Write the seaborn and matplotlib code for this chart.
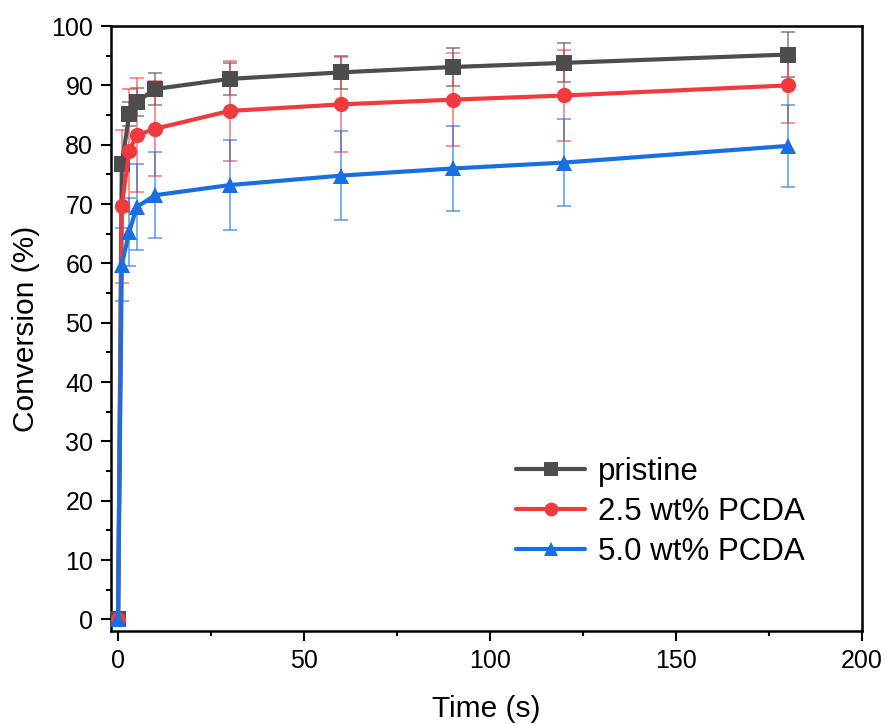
import numpy as np
import pandas as pd
import matplotlib
matplotlib.use('Agg')
import matplotlib.pyplot as plt
import seaborn as sns
from matplotlib.ticker import MultipleLocator

# data
time = [0, 1, 3, 5, 10, 30, 60, 90, 120, 180]
pristine = [0, 76.7, 85.2, 87.2, 89.4, 91.1, 92.2, 93.1, 93.8, 95.2]
pristine_err = [0, 1.0, 2.0, 2.4, 2.7, 2.7, 2.8, 3.2, 3.3, 3.8]
pcda_25 = [0, 69.6, 79.0, 81.6, 82.7, 85.7, 86.8, 87.6, 88.3, 90.0]
pcda_25_err = [0, 12.9, 10.4, 9.6, 8.0, 8.4, 8.0, 7.8, 7.6, 6.3]
pcda_50 = [0, 59.8, 65.3, 69.5, 71.5, 73.2, 74.8, 76.0, 77.0, 79.8]
pcda_50_err = [0, 6.2, 5.8, 7.2, 7.2, 7.6, 7.5, 7.2, 7.4, 6.9]

labels = ['pristine', '2.5 wt% PCDA', '5.0 wt% PCDA']
colors = ['#4d4d4d', '#ef3b3e', '#1a6fdf']
markers = ['s', 'o', '^']

sns.set_style('ticks')
plt.rcParams['font.family'] = ['Liberation Sans', 'DejaVu Sans']
plt.rcParams['text.color'] = 'black'
plt.rcParams['axes.labelcolor'] = 'black'
plt.rcParams['xtick.color'] = 'black'
plt.rcParams['ytick.color'] = 'black'
plt.rcParams['axes.edgecolor'] = 'black'

df = pd.DataFrame({
    'time': time * 3,
    'conv': pristine + pcda_25 + pcda_50,
    'err': pristine_err + pcda_25_err + pcda_50_err,
    'sample': sum([[l] * len(time) for l in labels], []),
})

fig = plt.figure(figsize=(8.85, 7.24), dpi=100)
ax = fig.add_axes([0.125, 0.128, 0.849, 0.836])

# error bars behind the lines
for lab, c in zip(labels, colors):
    d = df[df['sample'] == lab]
    ax.errorbar(d['time'], d['conv'], yerr=d['err'], fmt='none', ecolor=c,
                elinewidth=1.2, capsize=5, capthick=1.2, alpha=0.65, zorder=1)

sns.lineplot(data=df, x='time', y='conv', hue='sample', style='sample',
             palette=colors, markers=markers, dashes=False, markersize=11,
             markeredgewidth=0, linewidth=3, ax=ax, zorder=3)

ax.set_xlim(-2, 200)
ax.set_ylim(-2, 100)
ax.xaxis.set_major_locator(MultipleLocator(50))
ax.xaxis.set_minor_locator(MultipleLocator(25))
ax.yaxis.set_major_locator(MultipleLocator(10))
ax.yaxis.set_minor_locator(MultipleLocator(5))
ax.tick_params(which='major', length=7.5, width=1.5, labelsize=18, direction='out', pad=5)
ax.tick_params(which='minor', length=3.5, width=1.5, direction='out')
for s in ax.spines.values():
    s.set_linewidth(1.8)
    s.set_visible(True)

ax.set_xlabel('Time (s)', fontsize=21.5, labelpad=16)
ax.set_ylabel('Conversion (%)', fontsize=21.5, labelpad=8)

leg = ax.legend(frameon=False, fontsize=22.5, handlelength=2.2, loc='lower right',
                bbox_to_anchor=(0.94, 0.085), labelspacing=0.32, handletextpad=0.4,
                borderaxespad=0)
for h in leg.get_lines():
    h.set_linewidth(3)
    h.set_markersize(10)

fig.savefig('out.png', dpi=100)
